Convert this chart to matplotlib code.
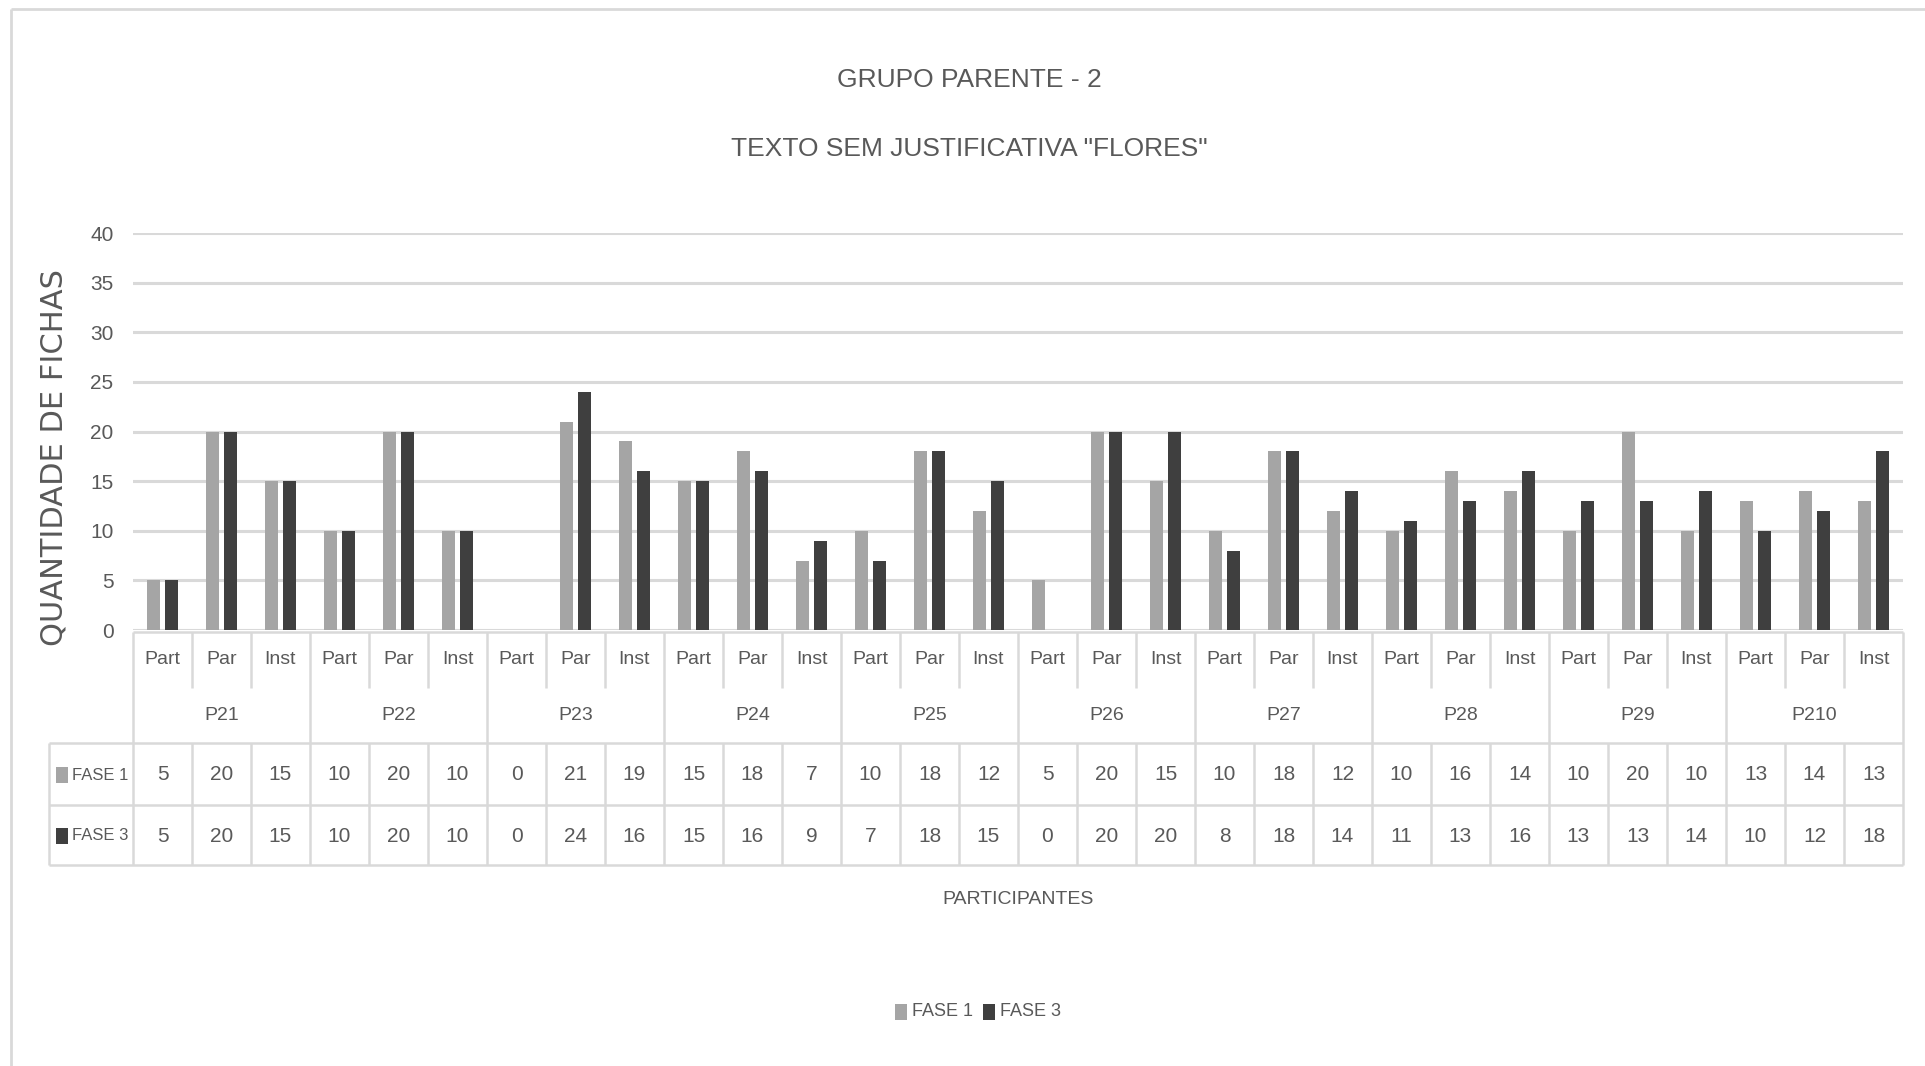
import matplotlib

matplotlib.use("Agg")
import matplotlib.pyplot as plt
from matplotlib.patches import Rectangle
from matplotlib.transforms import blended_transform_factory

# ── Data ─────────────────────────────────────────────────────────────────────
PARTICIPANTS = ["P21", "P22", "P23", "P24", "P25", "P26", "P27", "P28", "P29", "P210"]
SUBCATS = ["Part", "Par", "Inst"]
FASE1 = [5, 20, 15, 10, 20, 10, 0, 21, 19, 15, 18, 7, 10, 18, 12,
         5, 20, 15, 10, 18, 12, 10, 16, 14, 10, 20, 10, 13, 14, 13]
FASE3 = [5, 20, 15, 10, 20, 10, 0, 24, 16, 15, 16, 9, 7, 18, 15,
         0, 20, 20, 8, 18, 14, 11, 13, 16, 13, 13, 14, 10, 12, 18]
SERIES = ["FASE 1", "FASE 3"]
YTICKS = [0, 5, 10, 15, 20, 25, 30, 35, 40]

# ── Style ────────────────────────────────────────────────────────────────────
C_LIGHT = "#a5a5a5"
C_DARK = "#3f3f3f"
C_TEXT = "#595959"
C_GRID = "#d9d9d9"
W, H = 1925, 1066

plt.rcParams["font.family"] = ["Liberation Sans", "DejaVu Sans"]

fig = plt.figure(figsize=(W / 100, H / 100), dpi=100)
fig.patch.set_facecolor("white")

# full-figure canvas in pixel units (y grows downward) for frame / table / titles
cv = fig.add_axes([0, 0, 1, 1])
cv.set_xlim(0, W)
cv.set_ylim(H, 0)
cv.axis("off")

# plot area
PL, PR, PB, PT = 133, 1903, 630, 233
ax = fig.add_axes([PL / W, 1 - PB / H, (PR - PL) / W, (PB - PT) / H])
ax.patch.set_alpha(0)
n = len(FASE1)
xs = list(range(n))
ax.set_xlim(-0.5, n - 0.5)
ax.set_ylim(0, 40)
for s in ax.spines.values():
    s.set_visible(False)
ax.set_yticks(YTICKS)
ax.set_xticks([])
ax.tick_params(axis="y", length=0, pad=14, labelsize=15, labelcolor=C_TEXT)
ax.yaxis.grid(True, color=C_GRID, linewidth=2.2)
ax.set_axisbelow(True)

bw, off = 0.21, 0.15
ax.bar([x - off for x in xs], FASE1, width=bw, color=C_LIGHT, zorder=3)
ax.bar([x + off for x in xs], FASE3, width=bw, color=C_DARK, zorder=3)

# outer chart frame (left and top edges)
cv.plot([11, 11], [H, 9], color=C_GRID, lw=2, solid_capstyle="butt")
cv.plot([11, W], [9, 9], color=C_GRID, lw=2, solid_capstyle="butt")

# titles
cv.text(969, 80, "GRUPO PARENTE - 2", ha="center", va="center",
        fontsize=19, color=C_TEXT)
cv.text(969, 149, 'TEXTO SEM JUSTIFICATIVA "FLORES"', ha="center", va="center",
        fontsize=19, color=C_TEXT)

cv.text(54, 457, "QUANTIDADE DE FICHAS", rotation=90, ha="center", va="center",
        fontsize=22, color=C_TEXT, family="DejaVu Sans")

# ── Data table under the axis ────────────────────────────────────────────────
tr = blended_transform_factory(ax.transData, cv.transData)
Y_TOP, Y_SUB, Y_ROW1, Y_ROW2, Y_BOT = 632, 688, 743, 805, 865
LEG_L = 49
tl = dict(color=C_GRID, lw=1.8, solid_capstyle="butt")

cv.plot([PL, PR], [Y_TOP, Y_TOP], **tl)
for y in (Y_ROW1, Y_ROW2, Y_BOT):
    cv.plot([LEG_L, PR], [y, y], **tl)
cv.plot([LEG_L, LEG_L], [Y_ROW1, Y_BOT], **tl)

for i in range(n + 1):
    xb = i - 0.5
    if i % 3 == 0:
        ax.plot([xb, xb], [Y_TOP, Y_BOT], transform=tr, clip_on=False, **tl)
    else:
        ax.plot([xb, xb], [Y_TOP, Y_SUB], transform=tr, clip_on=False, **tl)
        ax.plot([xb, xb], [Y_ROW1, Y_BOT], transform=tr, clip_on=False, **tl)

for i in xs:
    ax.text(i, 660, SUBCATS[i % 3], transform=tr, ha="center", va="center",
            fontsize=14, color=C_TEXT)
    ax.text(i, 775, str(FASE1[i]), transform=tr, ha="center", va="center",
            fontsize=15, color=C_TEXT)
    ax.text(i, 836, str(FASE3[i]), transform=tr, ha="center", va="center",
            fontsize=15, color=C_TEXT)
for g, name in enumerate(PARTICIPANTS):
    ax.text(3 * g + 1, 716, name, transform=tr, ha="center", va="center",
            fontsize=14, color=C_TEXT)

for yc, name, col in ((775, SERIES[0], C_LIGHT), (836, SERIES[1], C_DARK)):
    cv.add_patch(Rectangle((56, yc - 8), 12, 16, color=col, lw=0))
    cv.text(72, yc, name, ha="left", va="center", fontsize=12, color=C_TEXT)

cv.text((PL + PR) / 2, 899, "PARTICIPANTES", ha="center", va="center",
        fontsize=14, color=C_TEXT)

# bottom legend
for x0, name, col in ((895, SERIES[0], C_LIGHT), (983, SERIES[1], C_DARK)):
    cv.add_patch(Rectangle((x0, 1004), 12, 16, color=col, lw=0))
    cv.text(x0 + 17, 1012, name, ha="left", va="center", fontsize=13, color=C_TEXT)

fig.savefig("out.png", dpi=100, facecolor="white")
